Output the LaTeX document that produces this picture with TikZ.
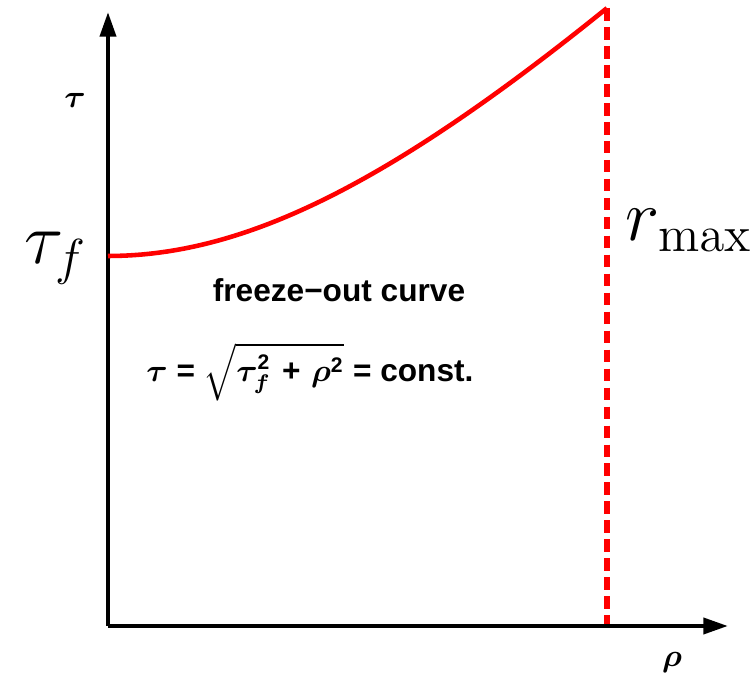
\documentclass[tikz,border=0pt]{standalone}
\usepackage{amsmath,amssymb,bm}
\usepackage[no-math]{fontspec}
\setmainfont{Liberation Sans}
\usetikzlibrary{arrows.meta}

\tikzset{
  axis/.style={line width=1.2pt,-{Triangle[length=7pt,width=4.5pt]}},
  fo curve/.style={red,line width=1.3pt},
  rmax line/.style={red,line width=1.5pt,dash pattern=on 3.6pt off 1.8pt},
  smalllab/.style={font=\fontsize{9}{11}\selectfont\bfseries\boldmath},
  biglab/.style={font=\fontsize{21}{24}\selectfont}
}

\begin{document}
\begin{tikzpicture}
  \useasboundingbox (0,0) rectangle (7.53,6.75);
  % axes
  \coordinate (o) at (1.08,0.49);
  \coordinate (ytip) at (1.08,6.63);
  \coordinate (xtip) at (7.28,0.49);
  \coordinate (top) at (6.07,6.67);
  \coordinate (bot) at (6.07,0.49);
  \draw[rmax line] (top) -- (bot);
  \draw[axis] (o) -- (ytip);
  \draw[axis] (o) -- (xtip);
  % freeze-out hyperbola
  \draw[fo curve,domain=0:4.99,samples=60]
    plot ({1.08+\x},{4.19+1.035*(sqrt(16+\x*\x)-4)});
  % labels
  \node[smalllab] (tau) at (0.75,5.75) {$\tau$};
  \node[smalllab] (rho) at (6.72,0.12) {$\rho$};
  \node[biglab] (tauf) at (0.56,4.17) {$\tau_f$};
  \node[biglab] (rmax) at (6.89,4.45) {$r_{\max}$};
  \node[smalllab] (fo) at (3.39,3.85) {freeze−out curve};
  \node[smalllab] (eq) at (3.10,3.03)
    {$\tau$ = $\sqrt{\vphantom{\big|}\tau_f^{\text{2}}\;\text{+}\;\rho^{\text{2}}}$ = const.};
\end{tikzpicture}
\end{document}
